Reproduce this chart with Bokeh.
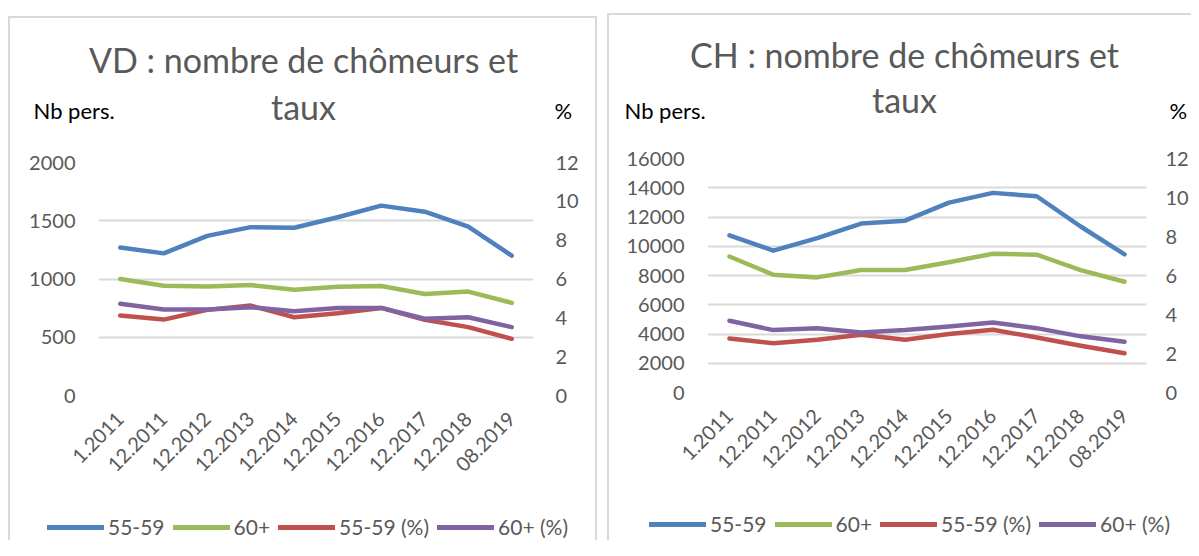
import math
from bokeh.plotting import figure
from bokeh.models import (Range1d, LinearAxis, FixedTicker, Label, Legend,
                          LegendItem, FactorRange, Spacer)
from bokeh.layouts import row, column
from bokeh.embed import file_html
from bokeh.resources import INLINE

periods = ["1.2011", "12.2011", "12.2012", "12.2013", "12.2014",
           "12.2015", "12.2016", "12.2017", "12.2018", "08.2019"]

vd_55_59 = [1270, 1220, 1370, 1445, 1440, 1530, 1630, 1578, 1450, 1200]
vd_60p = [1000, 942, 936, 948, 908, 934, 940, 872, 892, 795]
vd_55_59_pct = [4.12, 3.91, 4.41, 4.63, 4.03, 4.24, 4.51, 3.90, 3.52, 2.92]
vd_60p_pct = [4.72, 4.43, 4.43, 4.55, 4.34, 4.51, 4.51, 3.95, 4.03, 3.52]

ch_55_59 = [10750, 9700, 10550, 11550, 11750, 12980, 13650, 13420, 11350, 9450]
ch_60p = [9300, 8050, 7870, 8370, 8370, 8900, 9490, 9420, 8370, 7570]
ch_55_59_pct = [2.77, 2.52, 2.71, 2.96, 2.71, 3.00, 3.22, 2.82, 2.40, 2.01]
ch_60p_pct = [3.68, 3.20, 3.30, 3.08, 3.20, 3.39, 3.59, 3.30, 2.88, 2.60]

vd_left_ticks = [0, 500, 1000, 1500, 2000]
ch_left_ticks = [0, 2000, 4000, 6000, 8000, 10000, 12000, 14000, 16000]
pct_ticks = [0, 2, 4, 6, 8, 10, 12]

series_names = ["55-59", "60+", "55-59 (%)", "60+ (%)"]
colors = ["#4F81BD", "#9BBB59", "#C0504D", "#8064A2"]

FONT = "Lato"
GREY = "#595959"
BORDER = "#D9D9D9"


def style_axis(ax, standoff):
    ax.axis_line_color = None
    ax.major_tick_line_color = None
    ax.minor_tick_line_color = None
    ax.major_tick_out = 0
    ax.major_tick_in = 0
    ax.minor_tick_out = 0
    ax.minor_tick_in = 0
    ax.major_label_text_font = FONT
    ax.major_label_text_font_size = "20px"
    ax.major_label_text_color = GREY
    ax.major_label_standoff = standoff


def header(name, w, h, g):
    f = figure(width=w, height=h, x_range=Range1d(0, w), y_range=Range1d(0, h),
               x_axis_type=None, y_axis_type=None, min_border=0,
               output_backend="svg", toolbar_location=None,
               outline_line_color=None, frame_align=False)

    def lab(x, y, text, size, color, align):
        f.add_layout(Label(x=x, y=y, text=text, text_align=align,
                           text_baseline="alphabetic", text_font=FONT,
                           text_font_size=size, text_color=color))

    lab(g["cx"], g["t1"], name + " : nombre de chômeurs et", "34px", GREY, "center")
    lab(g["cx"], g["t2"], "taux", "34px", GREY, "center")
    lab(g["nb_x"], g["lab_y"], "Nb pers.", "22px", "black", "left")
    lab(g["pc_x"], g["lab_y"], "%", "22px", "black", "left")
    return f


def main(series, left_ticks, w, h, bl, br, bt, bb, rs):
    p = figure(x_range=FactorRange(*periods),
               y_range=Range1d(0, left_ticks[-1]),
               width=w, height=h,
               min_border_left=bl, min_border_right=br,
               min_border_top=bt, min_border_bottom=bb,
               output_backend="svg", toolbar_location=None,
               outline_line_color=None)
    p.extra_y_ranges = {"pct": Range1d(0, pct_ticks[-1])}
    p.xgrid.grid_line_color = None
    p.ygrid.grid_line_color = BORDER
    p.ygrid.grid_line_width = 2
    p.ygrid.ticker = FixedTicker(ticks=left_ticks)

    style_axis(p.yaxis[0], 23)
    style_axis(p.xaxis[0], 20)
    p.yaxis[0].ticker = FixedTicker(ticks=left_ticks)
    p.xaxis[0].major_label_orientation = math.pi / 4

    ax2 = LinearAxis(y_range_name="pct", ticker=FixedTicker(ticks=pct_ticks))
    style_axis(ax2, rs)
    p.add_layout(ax2, "right")

    for vals, col, yr in zip(series, colors, ["default", "default", "pct", "pct"]):
        p.line(periods, vals, line_color=col, line_width=4.5,
               line_cap="round", line_join="round", y_range_name=yr)
    return p


def footer(series, w, h, loc):
    # legend strip; its line renderers hold the series but lie outside the
    # visible y range, so only the legend entries are seen
    f = figure(width=w, height=h, x_range=FactorRange(*periods),
               y_range=Range1d(-2, -1), x_axis_type=None, y_axis_type=None,
               min_border=0, output_backend="svg", toolbar_location=None,
               outline_line_color=None, frame_align=False)
    f.xgrid.grid_line_color = None
    f.ygrid.grid_line_color = None
    items = []
    for n, vals, col in zip(series_names, series, colors):
        r = f.line(periods, vals, line_color=col, line_width=5, line_cap="round")
        items.append(LegendItem(label=n, renderers=[r]))
    f.add_layout(Legend(items=items, orientation="horizontal", location=loc,
                        glyph_width=57, glyph_height=20, label_standoff=4,
                        spacing=8, padding=0, margin=0,
                        label_text_font=FONT, label_text_font_size="21px",
                        label_text_color=GREY, border_line_color=None,
                        background_fill_alpha=0))
    return f


def line_box(w, h):
    return Spacer(width=w, height=h, styles={"background-color": BORDER})


vd_series = [vd_55_59, vd_60p, vd_55_59_pct, vd_60p_pct]
ch_series = [ch_55_59, ch_60p, ch_55_59_pct, ch_60p_pct]

# left panel: content at x 10..595, y 18..540
h1 = header("VD", 585, 125, dict(cx=293, t1=84, t2=37, nb_x=23, pc_x=544, lab_y=33))
m1 = main(vd_series, vd_left_ticks, 585, 347, 88, 62, 19, 95, 22)
f1 = footer(vd_series, 585, 50, (37, 1))
left = column(Spacer(width=597, height=16),
              line_box(589, 2),
              row(line_box(2, 522), column(h1, m1, f1), line_box(2, 522)))
left = row(Spacer(width=8, height=540), left)

# right panel: content at x 601..1183, y 15..540
h2 = header("CH", 582, 128, dict(cx=295, t1=89, t2=44, nb_x=15, pc_x=560, lab_y=33))
m2 = main(ch_series, ch_left_ticks, 582, 347, 98, 44, 15, 98, 19)
f2 = footer(ch_series, 582, 50, (40, 4))
right = column(Spacer(width=584, height=13),
               line_box(584, 2),
               row(line_box(2, 525), column(h2, m2, f2)))

layout = row(left, Spacer(width=2, height=540), right)
open("out.html", "w").write(file_html(layout, INLINE))
